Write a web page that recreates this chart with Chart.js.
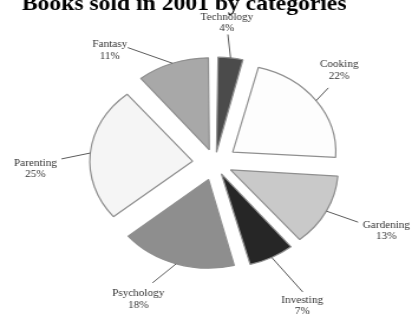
<!DOCTYPE html>
<html>
<head>
<meta charset="utf-8">
<script src="https://cdn.jsdelivr.net/npm/chart.js@4.4.1/dist/chart.umd.min.js"></script>
<style>
  html, body { margin: 0; padding: 0; background: #ffffff; overflow: hidden; }
  #c { display: block; width: 412px; height: 314px; }
</style>
</head>
<body>
<canvas id="c" width="349" height="314" style="width:412px;height:314px"></canvas>
<script>
// ---- data ----
const chartTitle = 'Books sold in 2001 by categories';
const categories = ['Technology', 'Cooking', 'Gardening', 'Investing', 'Psychology', 'Parenting', 'Fantasy'];
const shares = [4, 22, 13, 7, 18, 25, 11];

// ---- styles ----
const sliceColors = ['#4b4b4b', '#fdfdfd', '#c9c9c9', '#262626', '#8e8e8e', '#f5f5f5', '#a8a8a8'];
const explodeDistance = 19;
// label anchors: [bearing deg clockwise from north, distance px from pie centre]
const labelAnchor = [[4.0, 146], [47, 144], [113.2, 158], [151.7, 156], [206.4, 146], [270, 152], [323, 148]];
const leaderEnd   = [[4.9, 129], [52, 122], [116, 135], [150, 149], [203.8, 131], [271.8, 130], [327.4, 137]];

// Chart.js moves an arc by offset/4 * (2 - sin(circumference)); invert so every slice moves the same distance
function offsetFor(ctx) {
  const total = ctx.dataset.data.reduce((a, b) => a + b, 0);
  const circ = ctx.dataset.data[ctx.dataIndex] / total * Math.PI * 2;
  return 4 * explodeDistance / (2 - Math.sin(Math.min(Math.PI, circ)));
}

const labelPlugin = {
  id: 'pieLabels',
  afterDraw(chart) {
    const ctx = chart.ctx;
    const meta = chart.getDatasetMeta(0);
    ctx.save();
    // title
    ctx.fillStyle = '#000';
    ctx.font = 'bold 20px "Liberation Serif", "Times New Roman", serif';
    ctx.textAlign = 'left';
    ctx.textBaseline = 'alphabetic';
    ctx.fillText(chartTitle, 18.5, 10);

    meta.data.forEach((arc, i) => {
      const p = arc.getProps(['x', 'y', 'startAngle', 'endAngle', 'outerRadius'], true);
      const circ = p.endAngle - p.startAngle;
      const off = (arc.options.offset || 0) / 4 * (2 - Math.sin(Math.min(Math.PI, circ)));
      const mid = (p.startAngle + p.endAngle) / 2;
      const r0 = p.outerRadius + off;
      const sx = p.x + Math.cos(mid) * r0;
      const sy = p.y + Math.sin(mid) * r0;
      const le = leaderEnd[i];
      const la = (le[0] - 90) * Math.PI / 180;
      const ex = p.x + Math.cos(la) * le[1];
      const ey = p.y + Math.sin(la) * le[1];
      ctx.strokeStyle = '#5a5a5a';
      ctx.lineWidth = 1;
      ctx.beginPath();
      ctx.moveTo(sx, sy);
      ctx.lineTo(ex, ey);
      ctx.stroke();

      const an = labelAnchor[i];
      const aa = (an[0] - 90) * Math.PI / 180;
      const tx = p.x + Math.cos(aa) * an[1];
      const ty = p.y + Math.sin(aa) * an[1];
      ctx.fillStyle = '#333';
      ctx.font = '9.5px "Liberation Serif", "Times New Roman", serif';
      ctx.textAlign = 'center';
      ctx.textBaseline = 'middle';
      ctx.fillText(chart.data.labels[i], tx, ty);
      ctx.fillText(chart.data.datasets[0].data[i] + '%', tx, ty + 11.5);
    });
    ctx.restore();
  }
};

new Chart(document.getElementById('c'), {
  type: 'pie',
  data: {
    labels: categories,
    datasets: [{
      data: shares,
      backgroundColor: sliceColors,
      borderColor: '#8f8f8f',
      borderWidth: 1.2,
      offset: offsetFor,
      radius: 87
    }]
  },
  options: {
    responsive: false,
    animation: false,
    devicePixelRatio: 1,
    layout: { padding: { left: 15, top: 12, right: 0, bottom: 0 } },
    plugins: {
      legend: { display: false },
      tooltip: { enabled: false },
      title: { display: false }
    }
  },
  plugins: [labelPlugin]
});
</script>
</body>
</html>
